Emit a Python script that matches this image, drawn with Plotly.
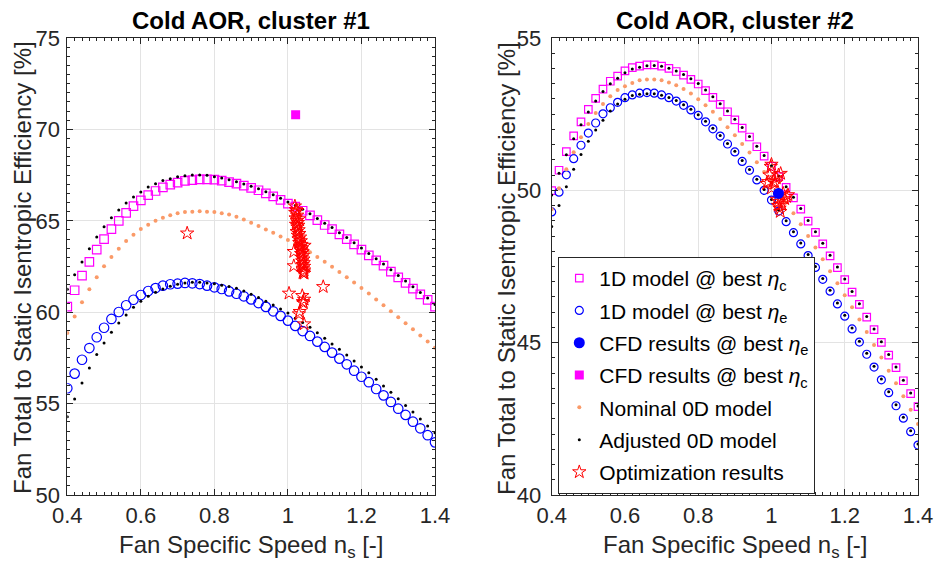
import plotly.graph_objects as go

# ---------------- data ----------------
NS = [0.40, 0.42, 0.44, 0.46, 0.48, 0.50, 0.52, 0.54, 0.56, 0.58,
      0.60, 0.62, 0.64, 0.66, 0.68, 0.70, 0.72, 0.74, 0.76, 0.78,
      0.80, 0.82, 0.84, 0.86, 0.88, 0.90, 0.92, 0.94, 0.96, 0.98,
      1.00, 1.02, 1.04, 1.06, 1.08, 1.10, 1.12, 1.14, 1.16, 1.18,
      1.20, 1.22, 1.24, 1.26, 1.28, 1.30, 1.32, 1.34, 1.36, 1.38, 1.40]

# ---- cluster #1 ----
C1_1D_ETAC = [60.30, 61.20, 62.00, 62.75, 63.42, 64.00, 64.55, 65.00, 65.43, 65.80,
              66.12, 66.40, 66.63, 66.83, 66.98, 67.09, 67.18, 67.23, 67.27, 67.27,
              67.25, 67.20, 67.12, 67.03, 66.92, 66.80, 66.67, 66.50, 66.34, 66.14,
              65.94, 65.77, 65.55, 65.30, 65.04, 64.77, 64.55, 64.26, 64.00, 63.71,
              63.42, 63.11, 62.84, 62.55, 62.22, 61.91, 61.60, 61.29, 60.98, 60.67, 60.30]
C1_1D_ETAE = [55.84, 56.64, 57.40, 58.04, 58.63, 59.15, 59.63, 60.01, 60.38, 60.68,
              60.94, 61.16, 61.32, 61.45, 61.53, 61.56, 61.60, 61.58, 61.54, 61.45,
              61.36, 61.27, 61.14, 61.01, 60.87, 60.70, 60.50, 60.29, 60.05, 59.80,
              59.54, 59.25, 58.97, 58.70, 58.39, 58.10, 57.79, 57.46, 57.15, 56.80,
              56.47, 56.17, 55.80, 55.45, 55.09, 54.72, 54.38, 54.01, 53.65, 53.27, 52.88]
C1_NOMINAL = [58.86, 59.76, 60.54, 61.25, 61.91, 62.51, 63.02, 63.47, 63.90, 64.24,
              64.55, 64.79, 65.00, 65.17, 65.30, 65.41, 65.48, 65.50, 65.52, 65.50,
              65.48, 65.41, 65.34, 65.22, 65.07, 64.90, 64.72, 64.53, 64.34, 64.14,
              63.95, 63.74, 63.52, 63.28, 63.02, 62.76, 62.48, 62.20, 61.91, 61.62,
              61.32, 61.02, 60.70, 60.38, 60.05, 59.73, 59.40, 59.07, 58.73, 58.40, 58.06]
C1_ADJ_HI = [61.25, 62.05, 62.75, 63.47, 64.11, 64.68, 65.17, 65.59, 65.97, 66.30,
             66.58, 66.85, 67.03, 67.20, 67.30, 67.41, 67.47, 67.50, 67.50, 67.49,
             67.41, 67.34, 67.24, 67.13, 67.01, 66.89, 66.75, 66.59, 66.42, 66.23,
             66.03, 65.84, 65.63, 65.39, 65.13, 64.87, 64.63, 64.35, 64.09, 63.80,
             63.51, 63.21, 62.93, 62.64, 62.32, 62.01, 61.70, 61.39, 61.08, 60.77, 60.42]
C1_ADJ_LO = [54.28, 55.25, 56.13, 56.95, 57.68, 58.32, 58.90, 59.41, 59.85, 60.27,
             60.60, 60.87, 61.09, 61.27, 61.42, 61.53, 61.60, 61.64, 61.64, 61.60,
             61.55, 61.48, 61.40, 61.31, 61.16, 60.98, 60.80, 60.60, 60.39, 60.17,
             59.95, 59.67, 59.43, 59.17, 58.88, 58.57, 58.26, 57.97, 57.66, 57.33,
             57.00, 56.69, 56.33, 55.96, 55.62, 55.27, 54.89, 54.54, 54.16, 53.78, 53.41]
C1_OPT_NS = [0.726, 1.096, 1.003, 1.039, 1.041, 1.032, 1.030, 1.044, 1.016, 1.016, 1.044, 1.042,
             1.019, 1.022, 1.020, 1.025, 1.021, 1.024, 1.027, 1.022, 1.026, 1.029,
             1.024, 1.031, 1.027, 1.033, 1.029, 1.035, 1.031, 1.037, 1.033, 1.038,
             1.035, 1.040, 1.036, 1.041, 1.038, 1.042, 1.039, 1.043, 1.040, 1.044,
             1.041, 1.044, 1.043, 1.044, 1.041, 1.028, 1.034, 1.045, 1.025, 1.030]
C1_OPT_ETA = [64.32, 61.39, 61.03, 60.90, 60.57, 60.03, 59.90, 59.35, 63.31, 62.53, 60.70, 60.50,
              65.80, 65.60, 65.45, 65.30, 65.15, 65.00, 64.90, 64.80, 64.65, 64.50,
              64.40, 64.30, 64.20, 64.10, 64.00, 63.90, 63.80, 63.70, 63.60, 63.50,
              63.40, 63.30, 63.20, 63.10, 63.00, 62.90, 62.80, 62.70, 62.60, 62.50,
              62.40, 62.30, 62.20, 62.12, 62.15, 64.75, 63.55, 63.65, 65.55, 65.10]
C1_CFD_ETAC_NS = [1.021]
C1_CFD_ETAC = [70.80]

# ---- cluster #2 ----
C2_1D_ETAC = [49.99, 50.66, 51.27, 51.79, 52.25, 52.66, 53.02, 53.32, 53.58, 53.75,
              53.92, 54.03, 54.08, 54.12, 54.12, 54.08, 54.00, 53.90, 53.78, 53.64,
              53.49, 53.27, 53.05, 52.82, 52.58, 52.31, 52.04, 51.75, 51.43, 51.12,
              50.79, 50.45, 50.10, 49.75, 49.38, 48.99, 48.62, 48.24, 47.85, 47.46,
              47.07, 46.66, 46.26, 45.84, 45.43, 45.01, 44.59, 44.18, 43.75, 43.33, 42.90]
C2_1D_ETAE = [49.29, 49.94, 50.51, 51.04, 51.48, 51.88, 52.21, 52.51, 52.71, 52.89,
              53.04, 53.13, 53.19, 53.21, 53.19, 53.13, 53.04, 52.93, 52.79, 52.64,
              52.46, 52.25, 52.02, 51.78, 51.52, 51.26, 50.95, 50.66, 50.34, 50.00,
              49.68, 49.32, 48.97, 48.61, 48.24, 47.86, 47.47, 47.08, 46.69, 46.27,
              45.87, 45.45, 45.02, 44.62, 44.20, 43.78, 43.36, 42.93, 42.52, 42.08, 41.64]
C2_NOMINAL = [49.38, 50.07, 50.69, 51.25, 51.74, 52.18, 52.54, 52.83, 53.09, 53.29,
              53.42, 53.52, 53.61, 53.64, 53.64, 53.61, 53.54, 53.45, 53.33, 53.18,
              52.99, 52.79, 52.58, 52.34, 52.07, 51.81, 51.52, 51.24, 50.92, 50.60,
              50.27, 49.93, 49.60, 49.25, 48.89, 48.50, 48.12, 47.74, 47.34, 46.95,
              46.56, 46.16, 45.76, 45.35, 44.92, 44.51, 44.08, 43.67, 43.24, 42.80, 42.33]
C2_ADJ_HI = [49.85, 50.56, 51.17, 51.69, 52.15, 52.57, 52.93, 53.24, 53.50, 53.68,
             53.86, 53.98, 54.04, 54.09, 54.10, 54.07, 54.01, 53.92, 53.80, 53.66,
             53.51, 53.29, 53.07, 52.84, 52.60, 52.33, 52.06, 51.77, 51.45, 51.14,
             50.81, 50.47, 50.12, 49.77, 49.40, 49.01, 48.64, 48.26, 47.87, 47.48,
             47.09, 46.68, 46.28, 45.86, 45.45, 45.03, 44.61, 44.20, 43.77, 43.35, 42.92]
C2_ADJ_LO = [48.81, 49.50, 50.12, 50.69, 51.18, 51.61, 51.98, 52.30, 52.60, 52.83,
             52.99, 53.11, 53.15, 53.17, 53.17, 53.12, 53.05, 52.95, 52.81, 52.66,
             52.48, 52.27, 52.04, 51.80, 51.54, 51.28, 50.98, 50.68, 50.36, 50.03,
             49.70, 49.35, 49.00, 48.64, 48.27, 47.89, 47.50, 47.11, 46.72, 46.30,
             45.90, 45.48, 45.05, 44.65, 44.23, 43.81, 43.39, 42.96, 42.55, 42.11, 41.67]
C2_OPT_NS = [0.998, 1.000, 1.019, 1.025, 0.991, 0.987, 1.005, 1.010, 1.000, 1.013,
             1.032, 1.041, 1.045, 1.036, 1.019, 1.015, 1.022, 1.024, 1.018, 1.028, 0.995]
C2_OPT_ETA = [50.78, 50.85, 50.50, 50.55, 50.28, 50.22, 50.30, 50.23, 50.07, 50.40,
              49.90, 49.79, 49.85, 49.72, 49.63, 49.70, 49.41, 49.30, 49.50, 49.55, 50.50]
C2_CFD_ETAE_NS = [1.019]
C2_CFD_ETAE = [49.90]

# ---------------- styling ----------------
FONT = "Liberation Sans, Arial, Helvetica, sans-serif"
AX = "#262626"
MAG = "#FF00FF"
BLUE = "#0000FF"
ORANGE = "#FA9A68"
RED = "#FF0000"

LEG_1D_C = "1D model @ best <i>η</i><sub>c</sub>"
LEG_1D_E = "1D model @ best <i>η</i><sub>e</sub>"
LEG_CFD_E = "CFD results @ best <i>η</i><sub>e</sub>"
LEG_CFD_C = "CFD results @ best <i>η</i><sub>c</sub>"
LEG_NOM = "Nominal 0D model"
LEG_ADJ = "Adjusted 0D model"
LEG_OPT = "Optimization results"

fig = go.Figure()


def add(x, y, xa, ya, name, symbol, color, size, lw=1.2, show=False, rank=1):
    fig.add_trace(go.Scatter(
        x=x, y=y, xaxis=xa, yaxis=ya, mode="markers", name=name,
        showlegend=show, legendrank=rank, legendgroup="g%d" % rank,
        marker=dict(symbol=symbol, color=color, size=size,
                    line=dict(color=color, width=lw)),
        hoverinfo="x+y"))


# cluster #1 (left)
add(NS, C1_1D_ETAC, "x", "y", LEG_1D_C, "square-open", MAG, 8.5, rank=1)
add(NS, C1_1D_ETAE, "x", "y", LEG_1D_E, "circle-open", BLUE, 9.5, rank=2)
add(NS, C1_NOMINAL, "x", "y", LEG_NOM, "circle", ORANGE, 4, lw=0, rank=5)
add(NS, C1_ADJ_HI, "x", "y", LEG_ADJ, "circle", "black", 3, lw=0, rank=6)
add(NS, C1_ADJ_LO, "x", "y", LEG_ADJ, "circle", "black", 3, lw=0, rank=6)
add(C1_OPT_NS, C1_OPT_ETA, "x", "y", LEG_OPT, "star-open", RED, 10, lw=1, rank=7)
add(C1_CFD_ETAC_NS, C1_CFD_ETAC, "x", "y", LEG_CFD_C, "square", MAG, 9, lw=0, show=True, rank=4)

# cluster #2 (right)
add(NS, C2_1D_ETAC, "x2", "y2", LEG_1D_C, "square-open", MAG, 7.5, show=True, rank=1)
add(NS, C2_1D_ETAE, "x2", "y2", LEG_1D_E, "circle-open", BLUE, 8, show=True, rank=2)
add(NS, C2_NOMINAL, "x2", "y2", LEG_NOM, "circle", ORANGE, 4, lw=0, show=True, rank=5)
add(NS, C2_ADJ_HI, "x2", "y2", LEG_ADJ, "circle", "black", 3, lw=0, show=True, rank=6)
add(NS, C2_ADJ_LO, "x2", "y2", LEG_ADJ, "circle", "black", 3, lw=0, rank=6)
add(C2_OPT_NS, C2_OPT_ETA, "x2", "y2", LEG_OPT, "star-open", RED, 10, lw=1, show=True, rank=7)
add(C2_CFD_ETAE_NS, C2_CFD_ETAE, "x2", "y2", LEG_CFD_E, "circle", BLUE, 11, lw=0, show=True, rank=3)

W, H = 935, 566
TICK_SIZE = 22


def xax(domain, anchor):
    return dict(domain=domain, anchor=anchor, range=[0.4, 1.4], tick0=0.4, dtick=0.2,
                ticks="inside", ticklen=6, tickcolor=AX, tickwidth=1,
                showline=True, linecolor=AX, linewidth=1, mirror="ticks",
                showgrid=True, gridcolor="#E3E3E3", gridwidth=1, zeroline=False,
                minor=dict(tick0=0.4, dtick=0.02, ticks="inside", ticklen=3,
                           tickcolor=AX, showgrid=False),
                tickfont=dict(family=FONT, size=TICK_SIZE, color=AX),
                ticklabelstandoff=1, automargin=False, fixedrange=True)


def yax(domain, anchor, rng, standoff):
    return dict(domain=domain, anchor=anchor, range=rng, tick0=rng[0], dtick=5,
                ticks="inside", ticklen=6, tickcolor=AX, tickwidth=1,
                showline=True, linecolor=AX, linewidth=1, mirror="ticks",
                showgrid=True, gridcolor="#E3E3E3", gridwidth=1, zeroline=False,
                minor=dict(tick0=rng[0], dtick=0.5, ticks="inside", ticklen=3,
                           tickcolor=AX, showgrid=False),
                tickfont=dict(family=FONT, size=TICK_SIZE, color=AX),
                ticklabelstandoff=standoff, automargin=False, fixedrange=True)


ydom = [1 - 495 / H, 1 - 38 / H]
fig.update_layout(
    width=W, height=H,
    margin=dict(l=0, r=0, t=0, b=0, pad=0),
    paper_bgcolor="white", plot_bgcolor="white",
    font=dict(family=FONT, color=AX),
    xaxis=xax([67.3 / W, 435 / W], "y"),
    yaxis=yax(ydom, "x", [50, 75], 2),
    xaxis2=xax([551.7 / W, 918 / W], "y2"),
    yaxis2=yax(ydom, "x2", [40, 55], 5),
    legend=dict(x=558.3 / W, y=1 - 257 / H, xanchor="left", yanchor="top",
                bgcolor="white", bordercolor=AX, borderwidth=1,
                font=dict(family=FONT, size=21, color="black"),
                tracegroupgap=2, itemwidth=30, groupclick="toggleitem"),
    showlegend=True,
)

annotations = [
    dict(text="<b>Cold AOR, cluster #1</b>", x=251 / W, y=1 - 20 / H, size=24, color="black"),
    dict(text="<b>Cold AOR, cluster #2</b>", x=735 / W, y=1 - 20 / H, size=24, color="black"),
    dict(text="Fan Specific Speed n<sub>s</sub> [-]", x=251 / W, y=1 - 546 / H),
    dict(text="Fan Specific Speed n<sub>s</sub> [-]", x=735 / W, y=1 - 546 / H),
    dict(text="Fan Total to Static Isentropic Efficiency [%]", x=22 / W, y=1 - 268 / H, angle=-90),
    dict(text="Fan Total to Static Isentropic Efficiency [%]", x=506 / W, y=1 - 268 / H, angle=-90),
]
for a in annotations:
    fig.add_annotation(
        text=a["text"], x=a["x"], y=a["y"], xref="paper", yref="paper",
        xanchor="center", yanchor="middle", showarrow=False,
        textangle=a.get("angle", 0),
        font=dict(family=FONT, size=a.get("size", 24), color=a.get("color", AX)))

fig.write_html("out.html")
